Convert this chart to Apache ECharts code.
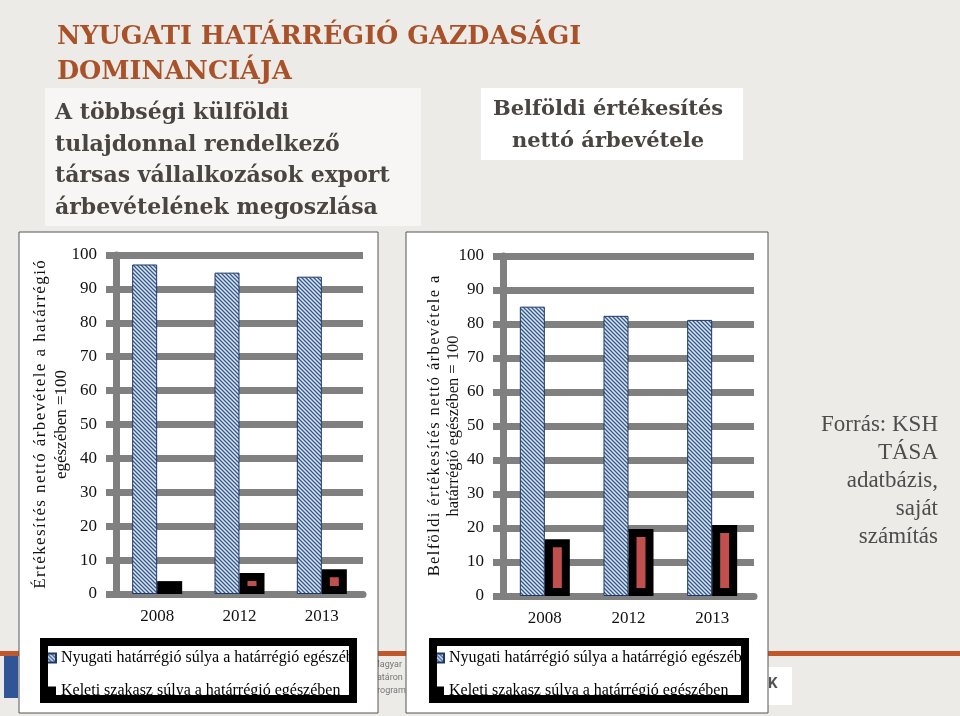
<!DOCTYPE html>
<html>
<head>
<meta charset="utf-8">
<script src="https://cdn.jsdelivr.net/npm/echarts@6/dist/echarts.min.js"></script>
<style>
html,body{margin:0;padding:0;background:#ecebe8;}
#chart{width:960px;height:716px;}
</style>
</head>
<body>
<div id="chart"></div>
<script>
// ---- data ----
const categories = ['2008', '2012', '2013'];
const seriesNames = ['Nyugati határrégió súlya a határrégió egészében', 'Keleti szakasz súlya a határrégió egészében'];
const exportWest = [97.2, 94.8, 93.6];
const exportEast = [3.8, 6.2, 7.3];
const domesticWest = [85.1, 82.4, 81.2];
const domesticEast = [16.7, 19.7, 20.9];
const yMin = 0, yMax = 100, yStep = 10;

const titleLines = ['NYUGATI HATÁRRÉGIÓ GAZDASÁGI', 'DOMINANCIÁJA'];
const leftSubtitle = ['A többségi külföldi', 'tulajdonnal rendelkező', 'társas vállalkozások export', 'árbevételének megoszlása'];
const rightSubtitle = ['Belföldi értékesítés', 'nettó árbevétele'];
const leftAxisNameLines = ['Értékesítés nettó árbevétele a határrégió', 'egészében =100'];
const rightAxisNameLines = ['Belföldi értékesítés nettó árbevétele a', 'határrégió egészében = 100'];
const sourceText = ['Forrás: KSH', 'TÁSA', 'adatbázis,', 'saját', 'számítás'];

// ---- helpers / styles ----
const HAIR = '\u200A';
function spaced(s) { return Array.from(s).join(HAIR); }
function hatch() {
  const c = document.createElement('canvas');
  c.width = 4; c.height = 4;
  const g = c.getContext('2d');
  g.fillStyle = '#dde7f3';
  g.fillRect(0, 0, 4, 4);
  g.strokeStyle = '#35598f';
  g.lineWidth = 1.3;
  g.beginPath();
  g.moveTo(-1, -1); g.lineTo(5, 5);
  g.moveTo(-1, 3); g.lineTo(1, 5);
  g.moveTo(3, -1); g.lineTo(5, 1);
  g.stroke();
  return c;
}
const hatchFill = { image: hatch(), repeat: 'repeat' };
const serif = 'Liberation Serif';
const slab = 'DejaVu Serif';
const gridGray = '#808080';

function yAxisCfg(gridIndex, name, nameGap, nameSize, nameLH) {
  return {
    type: 'value', gridIndex, min: yMin, max: yMax, interval: yStep,
    name, nameLocation: 'middle', nameRotate: 90, nameGap, nameMoveOverlap: false,
    nameTextStyle: { fontFamily: serif, fontSize: nameSize, color: '#111', lineHeight: nameLH },
    axisLine: { show: true, lineStyle: { color: gridGray, width: 7 } },
    axisTick: { show: true, length: 10, lineStyle: { color: gridGray, width: 7 } },
    splitLine: { show: true, lineStyle: { color: gridGray, width: 7 } },
    axisLabel: { fontFamily: serif, fontSize: 17, color: '#111', margin: 19 }
  };
}
function xAxisCfg(gridIndex) {
  return {
    type: 'category', gridIndex, data: categories,
    axisLine: { show: true, lineStyle: { color: gridGray, width: 7 } },
    axisTick: { show: false },
    axisLabel: { fontFamily: serif, fontSize: 17, color: '#111', margin: 14 }
  };
}
function westSeries(idx, data) {
  return {
    type: 'bar', name: seriesNames[0], xAxisIndex: idx, yAxisIndex: idx, data,
    barWidth: 25, barGap: '0%',
    itemStyle: { color: hatchFill, borderColor: '#1f3864', borderWidth: 1 }
  };
}
function eastSeries(idx, data) {
  return {
    type: 'bar', name: seriesNames[1], xAxisIndex: idx, yAxisIndex: idx, data,
    barWidth: 25, barGap: '0%',
    itemStyle: { color: '#c0504d', borderColor: '#000', borderWidth: 8 }
  };
}
function legendCfg(left) {
  return {
    left, top: 650, orient: 'vertical', padding: 0, itemGap: 17,
    itemWidth: 9, itemHeight: 9, icon: 'rect',
    data: [
      { name: seriesNames[0] },
      { name: seriesNames[1], itemStyle: { color: '#000', borderWidth: 0 } }
    ],
    textStyle: { fontFamily: serif, fontSize: 16, color: '#000', lineHeight: 16 }
  };
}

const graphics = [
  // slide decorations
  { type: 'rect', z: -5, shape: { x: 0, y: 651, width: 960, height: 5 }, style: { fill: '#c0582b' } },
  { type: 'rect', z: -5, shape: { x: 4, y: 656, width: 14, height: 42 }, style: { fill: '#2f5597' } },
  { type: 'text', z: -5, x: 372, y: 658, style: { text: 'Magyar\nhatáron\nprogram', font: '9px Roboto', fill: '#777', lineHeight: 13 } },
  { type: 'rect', z: -5, shape: { x: 766, y: 667, width: 26, height: 38 }, style: { fill: '#ffffff' } },
  { type: 'text', z: -4, x: 768, y: 677, style: { text: 'K', font: 'bold 15px Roboto', fill: '#555' } },
  // subtitle boxes
  { type: 'rect', z: -3, shape: { x: 45, y: 88, width: 376, height: 138 }, style: { fill: '#f7f6f4' } },
  { type: 'rect', z: -3, shape: { x: 481, y: 88, width: 262, height: 72 }, style: { fill: '#ffffff' } },
  // chart panels
  { type: 'rect', z: -1, shape: { x: 19, y: 232, width: 359, height: 481 }, style: { fill: '#ffffff', stroke: '#555', lineWidth: 1 } },
  { type: 'rect', z: -1, shape: { x: 406, y: 232, width: 362, height: 481 }, style: { fill: '#ffffff', stroke: '#555', lineWidth: 1 } },
  // legend frames (clip the overflowing legend text like the original)
  { type: 'rect', z: 99, shape: { x: 357, y: 636, width: 20, height: 70 }, style: { fill: '#ffffff' } },
  { type: 'rect', z: 99, shape: { x: 749, y: 636, width: 18, height: 70 }, style: { fill: '#ffffff' } },
  { type: 'rect', z: 100, shape: { x: 44, y: 642, width: 309, height: 57 }, style: { fill: 'none', stroke: '#000', lineWidth: 8 } },
  { type: 'rect', z: 100, shape: { x: 433, y: 642, width: 312, height: 57 }, style: { fill: 'none', stroke: '#000', lineWidth: 8 } },
  // source note
  { type: 'text', z: 5, x: 938, y: 411, style: { text: sourceText.join('\n'), align: 'right', verticalAlign: 'top', font: '23px "Liberation Serif"', fill: '#4d4d4d', lineHeight: 28 } }
];

const titles = [
  { left: 52, top: 15, text: titleLines.join('\n'), textStyle: { fontFamily: slab, fontWeight: 'bold', fontSize: 25.5, color: '#a9522a', lineHeight: 35 } },
  { left: 50, top: 93, text: leftSubtitle.join('\n'), textStyle: { fontFamily: slab, fontWeight: 'bold', fontSize: 22, color: '#4a4540', lineHeight: 31.5 } },
  { left: 603, top: 89, textAlign: 'center', text: rightSubtitle.join('\n'), textStyle: { fontFamily: slab, fontWeight: 'bold', fontSize: 21, color: '#4a4540', lineHeight: 32, align: 'center' } }
];

const option = {
  backgroundColor: '#ecebe8',
  animation: false,
  title: titles,
  graphic: graphics,
  legend: [legendCfg(46), legendCfg(434)],
  grid: [
    { left: 116, right: 597, top: 255, bottom: 122 },
    { left: 503, right: 206, top: 256, bottom: 120 }
  ],
  xAxis: [xAxisCfg(0), xAxisCfg(1)],
  yAxis: [
    yAxisCfg(0, spaced(leftAxisNameLines[0]) + '\n' + leftAxisNameLines[1], 44, 17, 21),
    yAxisCfg(1, spaced(rightAxisNameLines[0]) + '\n' + rightAxisNameLines[1], 40, 16.5, 19)
  ],
  series: [
    westSeries(0, exportWest), eastSeries(0, exportEast),
    westSeries(1, domesticWest), eastSeries(1, domesticEast)
  ]
};
const chart = echarts.init(document.getElementById('chart'), null, { renderer: 'canvas' });
chart.setOption(option);
</script>
</body>
</html>
